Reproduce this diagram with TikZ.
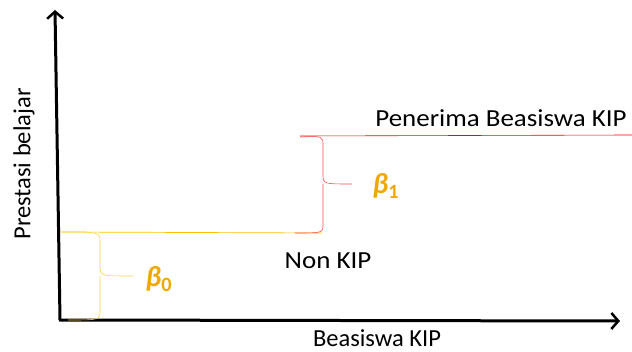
\documentclass[tikz,border=0pt]{standalone}
\usepackage{fontspec}
\setmainfont{Carlito}
\usetikzlibrary{arrows.meta}
\definecolor{kipgold}{HTML}{F0A800}
\definecolor{kipyellow}{HTML}{FFC000}
\tikzset{
  axislabel/.style={font=\fontsize{24.5}{26}\selectfont, xscale=1.1},
  betalabel/.style={font=\fontsize{29}{30}\selectfont\bfseries\itshape, text=kipgold}
}
\newcommand{\betasub}[1]{β\textsubscript{\upshape #1}}
\begin{document}
\begin{tikzpicture}[x=1pt,y=-1pt]
            \useasboundingbox (0,0) rectangle (632,352);

            % axes
            \draw[black, line width=3pt, -{Straight Barb[length=7pt,width=16pt,line width=2.5pt]}] (60,320) -- (55,10);
            \draw[black, line width=3pt, -{Straight Barb[length=7pt,width=16pt,line width=2.5pt]}] (59,320) -- (620,321);

            % levels
            \draw[kipyellow, line width=0.7pt] (60,232) -- (322,233);
            \draw[red, line width=0.6pt] (300,136) -- (632,135);

            % braces
            \draw[kipyellow!70, line width=0.6pt] (62,232) .. controls (100,232) .. (100,242) -- (100,266)
                .. controls (100,276) .. (133,276);
            \draw[kipyellow!70, line width=0.6pt] (100,276) .. controls (100,276) .. (100,286) -- (100,310)
                .. controls (100,320) .. (68,320);
            \draw[red!70, line width=0.6pt] (300,137) .. controls (323,136) .. (323,146) -- (323,174)
                .. controls (323,184) .. (352,184);
            \draw[red!70, line width=0.6pt] (323,184) -- (323,224)
                .. controls (323,233) .. (295,233);

            % labels
            \node[betalabel] (b0) at (159,279) {\betasub{0}};
            \node[betalabel] (b1) at (386,186) {\betasub{1}};
            \node[axislabel] (penerima) at (501,118) {Penerima Beasiswa KIP};
            \node[axislabel] (nonkip) at (328,261) {Non KIP};
            \node[font=\fontsize{24.5}{26}\selectfont, inner sep=0pt, anchor=base] (xlabel) at (377,347) {Beasiswa KIP};
            \node[font=\fontsize{24.5}{26}\selectfont, rotate=90] (ylabel) at (24,164) {Prestasi belajar};
        \end{tikzpicture}
\end{document}
